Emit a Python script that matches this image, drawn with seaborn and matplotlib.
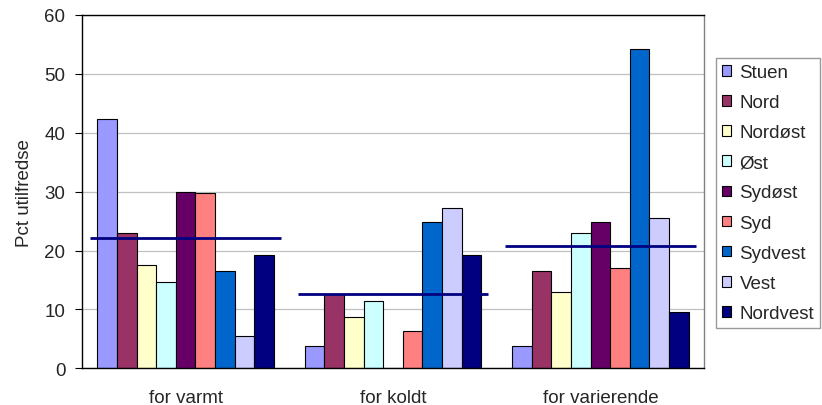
import numpy as np
import pandas as pd
import matplotlib
matplotlib.use('Agg')
import matplotlib.pyplot as plt
import seaborn as sns

groups = ['for varmt', 'for koldt', 'for varierende']
sides = ['Stuen', 'Nord', 'Nordøst', 'Øst', 'Sydøst', 'Syd', 'Sydvest', 'Vest', 'Nordvest']
varmt = [42.3, 23.0, 17.5, 14.6, 30.0, 29.8, 16.6, 5.5, 19.2]
koldt = [3.8, 12.6, 8.7, 11.4, 0.0, 6.3, 24.9, 27.2, 19.2]
varierende = [3.8, 16.6, 12.9, 23.0, 24.9, 17.0, 54.2, 25.5, 9.6]
colors = ['#9999FF', '#993366', '#FFFFCC', '#CCFFFF', '#660066',
          '#FF8080', '#0066CC', '#CCCCFF', '#000080']
yticks = [0, 10, 20, 30, 40, 50, 60]

rows = []
for g, vals in zip(groups, [varmt, koldt, varierende]):
    for s, v in zip(sides, vals):
        rows.append({'gruppe': g, 'side': s, 'pct': v})
df = pd.DataFrame(rows)
means = df.groupby('gruppe', sort=False)['pct'].mean()

sns.set_style('white')
plt.rcParams['font.family'] = ['Liberation Sans', 'DejaVu Sans']
fs = 13.5

fig = plt.figure(figsize=(8.22, 4.06), dpi=100)
ax = fig.add_axes([82 / 822, 1 - 369.3 / 406, (704 - 82) / 822, (369.3 - 16) / 406])

sns.barplot(data=df, x='gruppe', y='pct', hue='side', order=groups, hue_order=sides,
            palette=dict(zip(sides, colors)), width=0.852, gap=0,
            edgecolor='black', linewidth=0.8, saturation=1, errorbar=None, ax=ax)

# gennemsnit pr. gruppe
for i, g in enumerate(groups):
    ax.hlines(means[g], i - 0.46, i + 0.46, color='#000080', lw=2, zorder=5)

ax.set_xlim(-0.5, 2.5)
ax.set_ylim(0, 60)
ax.set_yticks(yticks)
ax.yaxis.grid(True, color='#c0c0c0', lw=0.9)
ax.set_axisbelow(True)
ax.set_xticks([-0.5, 0.5, 1.5, 2.5], minor=True)
ax.tick_params(axis='x', which='major', length=0, labelsize=fs, pad=15)
ax.tick_params(axis='x', which='minor', length=5, color='black', direction='out')
ax.tick_params(axis='y', length=5, color='black', direction='out', labelsize=fs, left=True, pad=7)
ax.set_xlabel('')
ax.set_ylabel('Pct utilfredse', fontsize=fs, labelpad=8)

for sp in ['left', 'bottom', 'top']:
    ax.spines[sp].set_color('black')
    ax.spines[sp].set_linewidth(1)
ax.spines['right'].set_color('#808080')
ax.spines['right'].set_linewidth(1)

handles, labels = ax.get_legend_handles_labels()
ax.get_legend().remove()
leg = fig.legend(handles, labels, loc='center left', bbox_to_anchor=(716 / 822, 1 - 194 / 406),
                 fontsize=fs, frameon=True, fancybox=False, edgecolor='#808080',
                 handlelength=0.5, handleheight=0.5, handletextpad=0.45,
                 labelspacing=0.7, borderpad=0.3, borderaxespad=0)
leg.get_frame().set_linewidth(1)

fig.savefig('out.png', dpi=100)
